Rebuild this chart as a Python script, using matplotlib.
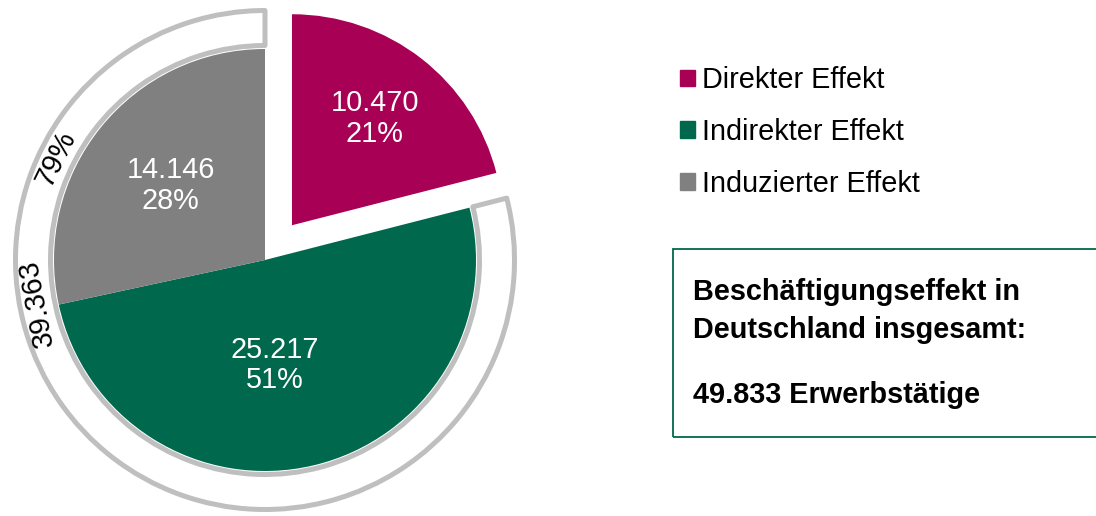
import matplotlib
matplotlib.use('Agg')
import matplotlib.pyplot as plt
from matplotlib.patches import Rectangle, Patch
import numpy as np

categories = ['Direkter Effekt', 'Indirekter Effekt', 'Induzierter Effekt']
values = [10470, 25217, 14146]
colors = ['#A80055', '#00684C', '#808080']
box_lines = ['Beschäftigungseffekt in', 'Deutschland insgesamt:', '49.833 Erwerbstätige']

W, H = 1096, 516
FS = 20.8
plt.rcParams['font.family'] = ['Liberation Sans', 'DejaVu Sans']


def de(n):
    # German thousands separator
    return f'{n:,}'.replace(',', '.')


total = sum(values)
rest = total - values[0]

fig = plt.figure(figsize=(W / 100, H / 100), dpi=100)
ax = fig.add_axes([0, 0, 1, 1])

cx, cy, R = 265, H - 260, 211

# main pie, direct effect pulled out
wedges, _ = ax.pie(values, colors=colors, radius=R, center=(cx, cy), startangle=90,
                   counterclock=False, explode=[44, 0, 0], frame=True,
                   wedgeprops=dict(linewidth=0))

# outer ring around indirect + induced
ring, _ = ax.pie([values[0], rest], colors=['none', 'white'], radius=249.5, center=(cx, cy),
                 startangle=90, counterclock=False, frame=True,
                 wedgeprops=dict(width=35, edgecolor='#BFBFBF', linewidth=3.6, joinstyle='round'))
ring[0].set_visible(False)

# slice labels
label_r = [0.64, 0.5, 0.57]
angle_tweak = [0, -7.8, 0.6]
for w, v, r, t in zip(wedges, values, label_r, angle_tweak):
    ang = np.deg2rad((w.theta1 + w.theta2) / 2 + t)
    x = w.center[0] + r * R * np.cos(ang)
    y = w.center[1] + r * R * np.sin(ang)
    ax.text(x, y, f'{de(v)}\n{round(v / total * 100)}%', ha='center', va='center',
            color='white', fontsize=FS, linespacing=1.1)

# ring labels, along the ring
ring_texts = [f'{round(rest / total * 100)}%', de(rest)]
ring_angles = [154, 190.7]
for txt, a in zip(ring_texts, ring_angles):
    x = cx + 232 * np.cos(np.deg2rad(a))
    y = cy + 232 * np.sin(np.deg2rad(a))
    ax.text(x, y, txt, ha='center', va='center', rotation=a - 90,
            rotation_mode='anchor', fontsize=FS, color='black')

handles = [Patch(color=c) for c in colors]
ax.legend(handles, categories, loc='upper left', bbox_to_anchor=(680 / W, 1 - 66 / H),
          frameon=False, fontsize=FS, handlelength=0.52, handleheight=0.5,
          handletextpad=0.24, labelspacing=0.83, borderpad=0, borderaxespad=0)

ax.add_patch(Rectangle((673, H - 437), 500, 188, facecolor='none',
                       edgecolor='#00684C', lw=1.3))
for txt, yp in zip(box_lines, [292, 330, 395]):
    ax.text(693, H - yp, txt, ha='left', va='center', fontsize=FS, fontweight='bold')

ax.set_xlim(0, W)
ax.set_ylim(0, H)
ax.axis('off')

fig.savefig('out.png', dpi=100)
plt.close(fig)
